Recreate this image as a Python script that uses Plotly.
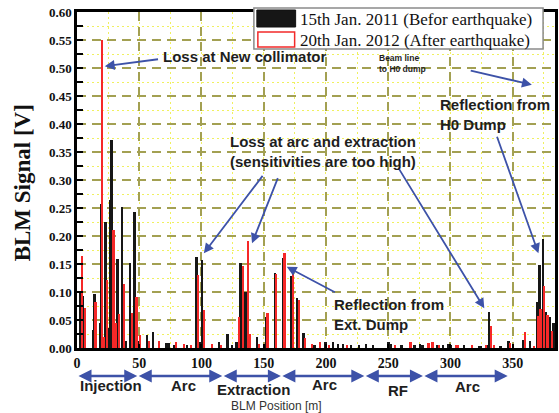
import plotly.graph_objects as go

# ---------------- data ----------------
before_pos = [3.0, 4.8, 12.8, 13.9, 18.7, 19.2, 22.9, 25.5, 26.7, 27.9, 32.7, 36.2, 39.4, 42.6, 46.1,
              50.1, 56.2, 61.2, 71.9, 74.0, 78.0, 88.4, 96.0, 99.3, 100.6, 114.2, 120.9, 124.5, 128.0,
              131.2, 135.2, 144.5, 150.4, 151.7, 158.9, 165.3, 172.4, 176.8, 181.8, 190.6, 199.7,
              205.7, 209.7, 213.7, 220.1, 226.5, 232.1, 237.7, 250.2, 252.3, 260.8, 271.2, 275.7,
              277.6, 289.6, 294.1, 298.1, 300.2, 310.9, 322.8, 324.6, 329.5, 330.8, 340.1, 346.8,
              358.8, 363.8, 369.6, 371.5, 374.2, 376.8, 380.0, 382.7]
before_val = [0.099, 0.092, 0.032, 0.096, 0.045, 0.257, 0.225, 0.036, 0.264, 0.371, 0.159, 0.252, 0.012,
              0.151, 0.242, 0.012, 0.023, 0.028, 0.009, 0.009, 0.006, 0.006, 0.163, 0.010, 0.157,
              0.011, 0.025, 0.005, 0.010, 0.152, 0.100, 0.020, 0.008, 0.055, 0.134, 0.160, 0.128,
              0.089, 0.027, 0.006, 0.010, 0.011, 0.008, 0.008, 0.005, 0.006, 0.007, 0.006, 0.010,
              0.007, 0.005, 0.006, 0.008, 0.006, 0.006, 0.006, 0.008, 0.005, 0.005, 0.004, 0.004,
              0.006, 0.064, 0.004, 0.012, 0.015, 0.013, 0.083, 0.148, 0.195, 0.064, 0.056, 0.045]

after_pos = [3.8, 6.2, 14.9, 20.1, 21.3, 24.3, 29.3, 30.9, 33.5, 37.5, 43.9, 47.7, 50.9, 58.0, 66.1,
             79.8, 86.0, 91.3, 97.4, 102.2, 108.3, 115.8, 129.9, 133.3, 137.1, 139.2, 146.4, 153.0,
             159.7, 166.6, 173.3, 178.3, 183.1, 189.0, 195.1, 202.3, 216.9, 255.2, 268.0, 282.3,
             285.6, 290.9, 304.9, 306.3, 317.5, 328.7, 332.4, 334.8, 348.1, 360.0, 367.2, 370.6,
             372.3, 375.4, 378.0, 381.4]
after_val = [0.165, 0.072, 0.083, 0.550, 0.020, 0.121, 0.211, 0.045, 0.061, 0.114, 0.062, 0.091, 0.024,
             0.012, 0.013, 0.010, 0.008, 0.006, 0.130, 0.067, 0.008, 0.006, 0.055, 0.146, 0.191,
             0.025, 0.008, 0.062, 0.133, 0.169, 0.136, 0.086, 0.018, 0.008, 0.010, 0.006, 0.006,
             0.006, 0.011, 0.009, 0.010, 0.005, 0.005, 0.005, 0.006, 0.006, 0.040, 0.006, 0.009,
             0.028, 0.004, 0.057, 0.070, 0.111, 0.059, 0.030]

series_names = ["15th Jan. 2011 (Befor earthquake)", "20th Jan. 2012 (After earthquake)"]

section_bounds = [0, 48.4, 116.7, 163.8, 230.8, 277.9, 346]
section_names = ["Injection", "Arc", "Extraction", "Arc", "RF", "Arc"]

x_ticks = [0, 50, 100, 150, 200, 250, 300, 350]

# ---------------- figure ----------------
L, T, W, H = 77, 12, 481, 336
FW, FH = 559, 413


def PX(x):
    return (x - L) / W


def PY(y):
    return (T + H - y) / H


BLUE = "#3d52a8"
TXT = "#1e1e1e"
SERIF = "Liberation Serif"
SANS = "Liberation Sans"

fig = go.Figure()
fig.add_trace(go.Bar(x=before_pos, y=before_val, width=2.0, name=series_names[0],
                     marker=dict(color="#161616", line=dict(width=0)), showlegend=False))
fig.add_trace(go.Bar(x=after_pos, y=after_val, width=1.8, name=series_names[1],
                     marker=dict(color="#f52828", line=dict(width=0)), showlegend=False))

annotations = []
shapes = []

# legend (manual, to match the large legend keys)
shapes.append(dict(type="rect", xref="paper", yref="paper", x0=PX(255), x1=PX(546), y0=PY(49), y1=PY(8),
                   line=dict(color="#8a8a8a", width=1.5), fillcolor="white", layer="above"))
shapes.append(dict(type="rect", xref="paper", yref="paper", x0=PX(258), x1=PX(297), y0=PY(27), y1=PY(10),
                   line=dict(color="#111", width=1), fillcolor="#161616", layer="above"))
shapes.append(dict(type="rect", xref="paper", yref="paper", x0=PX(259), x1=PX(296), y0=PY(47), y1=PY(32),
                   line=dict(color="#f22a2a", width=1.5), fillcolor="white", layer="above"))
for name, yc in zip(series_names, [19, 40]):
    annotations.append(dict(text=name, xref="paper", yref="paper", x=PX(299), y=PY(yc),
                            xanchor="left", yanchor="middle", showarrow=False,
                            font=dict(family=SERIF, size=17, color="#111")))

# pointer arrows (data coordinates: tail -> head)
arrows = [
    (66.3, 0.516, 22.3, 0.503),
    (150.0, 0.310, 101.9, 0.169),
    (161.8, 0.306, 140.6, 0.187),
    (257.8, 0.323, 327.2, 0.071),
    (208.4, 0.098, 168.5, 0.145),
    (315.1, 0.496, 365.4, 0.470),
    (337.0, 0.380, 370.7, 0.169),
]
for ax_, ay_, x_, y_ in arrows:
    annotations.append(dict(text="", x=x_, y=y_, ax=ax_, ay=ay_, xref="x", yref="y", axref="x", ayref="y",
                            showarrow=True, arrowhead=2, arrowsize=1.1, arrowwidth=1.8, arrowcolor=BLUE))

# annotation texts
texts = [
    ("Loss at New collimator", 162, 57, 15, True),
    ("Loss at arc and extraction<br>(sensitivities are too high)", 229, 151, 15, True),
    ("Reflection from<br>Ext. Dump", 334, 314, 15, True),
    ("Reflection from<br>H0 Dump", 440, 114, 15, True),
    ("Beam line<br>to H0 dump", 379, 63, 8.5, True),
]
for t, x, y, s, b in texts:
    annotations.append(dict(text=t, xref="paper", yref="paper", x=PX(x), y=PY(y), xanchor="left",
                            yanchor="middle", align="left", showarrow=False,
                            font=dict(family=SANS, size=s, color=TXT, weight="bold" if b else "normal")))

# section arrows under the axis
for a, b in zip(section_bounds[:-1], section_bounds[1:]):
    annotations.append(dict(text="", x=b, y=PY(376), ax=a, ay=0, xref="x", yref="paper", axref="x",
                            ayref="pixel", showarrow=True, arrowside="end+start", arrowhead=2,
                            startarrowhead=2, arrowsize=1, startarrowsize=1, arrowwidth=2.6,
                            arrowcolor=BLUE))
label_px = [(111, 385), (184, 385), (255, 389), (326, 384), (400, 390), (470, 386)]
for name, (xp, yp) in zip(section_names, label_px):
    annotations.append(dict(text=name, xref="paper", yref="paper", x=PX(xp), y=PY(yp), xanchor="center",
                            yanchor="middle", showarrow=False,
                            font=dict(family=SANS, size=15, color=TXT, weight="bold")))

annotations.append(dict(text="BLM Position [m]", xref="paper", yref="paper", x=PX(278), y=PY(406),
                        xanchor="center", yanchor="middle", showarrow=False,
                        font=dict(family=SANS, size=12, color="#333")))
annotations.append(dict(text="BLM Signal [V]", xref="paper", yref="paper", x=PX(22), y=PY(183),
                        xanchor="center", yanchor="middle", textangle=-90, showarrow=False,
                        font=dict(family=SERIF, size=23, color="#111", weight="bold")))

axis_common = dict(showline=True, linecolor="black", linewidth=2.5, mirror=True, zeroline=False,
                   gridcolor="#a3a052", gridwidth=1.8, griddash="9px,6px")
minor_grid = dict(showgrid=True, gridcolor="#f0f060", gridwidth=1.2, griddash="2px,3px")

fig.update_layout(
    width=FW, height=FH,
    margin=dict(l=L, r=FW - L - W, t=T, b=FH - T - H),
    paper_bgcolor="white", plot_bgcolor="white",
    barmode="overlay", bargap=0,
    showlegend=False,
    xaxis=dict(range=[0, 384], tickvals=x_ticks, ticktext=[str(v) for v in x_ticks],
               ticks="inside", ticklen=4, tickwidth=1.5, tickcolor="black",
               tickfont=dict(family=SERIF, size=14, color="#111", weight="bold"),
               minor=dict(dtick=25, tick0=0, **minor_grid),
               **axis_common),
    yaxis=dict(range=[0, 0.6], dtick=0.05, tickformat=".2f",
               ticks="inside", ticklen=6, tickwidth=2, tickcolor="black",
               tickfont=dict(family=SERIF, size=13, color="#111", weight="bold"),
               minor=dict(dtick=0.025, tick0=0, ticks="inside", ticklen=6, tickwidth=2, tickcolor="black",
                          **minor_grid),
               **axis_common),
    annotations=annotations,
    shapes=shapes,
)

fig.write_html("out.html", config={"displayModeBar": False},
               post_script="document.body.style.margin='0px';document.body.style.overflow='hidden';")
